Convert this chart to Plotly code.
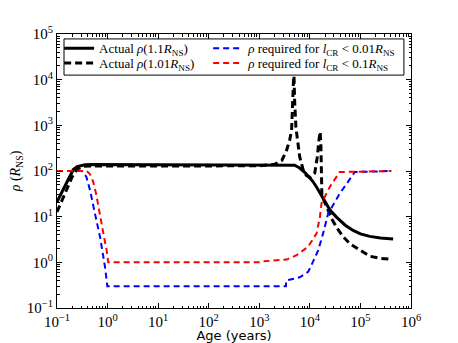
import plotly.graph_objects as go

# Actual rho(1.1 R_NS)
age_solid = [0.1, 0.15, 0.21, 0.25, 0.3, 0.36, 0.5, 1, 10, 100, 1000, 3000, 5000, 6300,
             8000, 10000, 11600, 14000, 17000, 20000, 25000, 33600, 50000, 71800,
             100000, 153000, 250000, 443000]
rho_solid = [21, 50, 108, 125, 133, 137, 138, 138, 138, 138, 138, 138, 134, 116,
             92, 70, 58, 42, 29, 21, 14, 9.8, 6.5, 5.0, 4.2, 3.7, 3.4, 3.25]

# Actual rho(1.01 R_NS)
age_dash = [0.1, 0.15, 0.2, 0.25, 0.33, 0.5, 1, 10, 100, 1000, 2000, 2800, 3470, 4000,
            4350, 4680, 4830, 5000, 5300, 6300, 7400, 8500, 10000, 12500, 14000,
            15200, 16000, 16500, 16800, 17300, 18300, 22000, 27000, 33600, 45000,
            61700, 100000, 153000, 250000, 411000]
rho_dash = [12.7, 35, 75, 110, 127, 128, 128, 128, 128, 130, 140, 170, 286, 480,
            785, 4200, 16000, 3500, 900, 204, 105, 80, 72, 90, 200,
            500, 720, 400, 60, 28, 25, 15, 9, 5.9, 3.7,
            2.57, 1.8, 1.36, 1.22, 1.16]

# rho required for l_CR < 0.01 R_NS
age_blue = [0.1, 0.31, 0.38, 0.45, 0.56, 0.71, 0.89, 0.99, 10, 100, 1000, 3360,
            3400, 6300, 9250, 10000, 14600, 18300, 23000, 39000, 77400, 411000]
rho_blue = [100, 100, 75, 38, 12, 3.6, 0.79, 0.3, 0.3, 0.3, 0.3, 0.3,
            0.4, 0.47, 0.62, 0.73, 1.83, 4.3, 11.7, 32, 95, 100]

# rho required for l_CR < 0.1 R_NS
age_red = [0.1, 0.39, 0.45, 0.52, 0.6, 0.71, 0.85, 0.96, 1.03, 10, 100, 1000, 1190,
           3470, 5460, 9250, 13600, 15800, 17000, 24800, 39000, 411000]
rho_red = [100, 100, 85, 58, 30, 9.9, 3.6, 1.83, 1.0, 1.0, 1.0, 1.0, 1.05,
           1.15, 1.43, 2.2, 4.3, 9.8, 19.6, 45, 95, 100]

x_ticks = [0.1, 1, 10, 100, 1000, 10000, 100000, 1000000]
x_labels = ["10<sup>−1</sup>", "10<sup>0</sup>", "10<sup>1</sup>", "10<sup>2</sup>",
            "10<sup>3</sup>", "10<sup>4</sup>", "10<sup>5</sup>", "10<sup>6</sup>"]
y_ticks = [0.1, 1, 10, 100, 1000, 10000, 100000]
y_labels = ["10<sup>−1</sup>", "10<sup>0</sup>", "10<sup>1</sup>", "10<sup>2</sup>",
            "10<sup>3</sup>", "10<sup>4</sup>", "10<sup>5</sup>"]

serif = "Liberation Serif"

fig = go.Figure()
fig.add_trace(go.Scatter(
    x=age_solid, y=rho_solid, mode="lines", legend="legend", showlegend=True,
    name="Actual <i>ρ</i>(1.1<i>R</i><sub>NS</sub>)",
    line=dict(color="black", width=3)))
fig.add_trace(go.Scatter(
    x=age_dash, y=rho_dash, mode="lines", legend="legend2",
    name="Actual <i>ρ</i>(1.01<i>R</i><sub>NS</sub>)",
    line=dict(color="black", width=3, dash="7px,4px")))
fig.add_trace(go.Scatter(
    x=age_blue, y=rho_blue, mode="lines", legend="legend3",
    name="<i>ρ</i> required for <i>l</i><sub>CR</sub> < 0.01<i>R</i><sub>NS</sub>",
    line=dict(color="#0000ff", width=2, dash="6px,4px")))
fig.add_trace(go.Scatter(
    x=age_red, y=rho_red, mode="lines", legend="legend4",
    name="<i>ρ</i> required for <i>l</i><sub>CR</sub> < 0.1<i>R</i><sub>NS</sub>",
    line=dict(color="#ff0000", width=2, dash="6px,4px")))

# legend frame
fig.add_shape(type="rect", xref="paper", yref="paper",
              x0=0.0198, x1=0.980, y0=0.850, y1=0.982,
              line=dict(color="black", width=1), fillcolor="white", layer="above")

minor_x = [m * 10 ** e for e in range(-1, 6) for m in range(2, 10)]
minor_y = [m * 10 ** e for e in range(-1, 5) for m in range(2, 10)]

axis_common = dict(
    type="log", showgrid=False, zeroline=False, automargin=False,
    showline=True, linecolor="black", linewidth=1, mirror="allticks",
    ticks="inside", ticklen=5, tickcolor="black", tickwidth=1,
    tickfont=dict(family=serif, size=15, color="black"),
)

fig.update_xaxes(
    **axis_common, range=[-1, 6], tickvals=x_ticks, ticktext=x_labels,
    minor=dict(tickvals=minor_x, ticks="inside", ticklen=2.5, tickcolor="black"),
    title=dict(text="Age (years)", font=dict(family="DejaVu Sans", size=13, color="black"),
               standoff=10))
fig.update_yaxes(
    **axis_common, range=[-1, 5], tickvals=y_ticks, ticktext=y_labels,
    minor=dict(tickvals=minor_y, ticks="inside", ticklen=2.5, tickcolor="black"),
    title=dict(text="<i>ρ</i> (<i>R</i><sub>NS</sub>)",
               font=dict(family=serif, size=14, color="black"), standoff=9))

leg_style = dict(xanchor="left", yanchor="middle", bgcolor="rgba(0,0,0,0)",
                 borderwidth=0, font=dict(family=serif, size=13, color="black"))
# page body adds an 8px offset, so the figure is 8px smaller than the window
fig.update_layout(
    width=450, height=335, showlegend=True,
    margin=dict(l=49, r=47, t=26, b=35),
    plot_bgcolor="white", paper_bgcolor="white",
    legend=dict(x=0.006, y=0.948, **leg_style),
    legend2=dict(x=0.006, y=0.894, **leg_style),
    legend3=dict(x=0.427, y=0.948, **leg_style),
    legend4=dict(x=0.427, y=0.894, **leg_style),
)

fig.write_html("out.html")
